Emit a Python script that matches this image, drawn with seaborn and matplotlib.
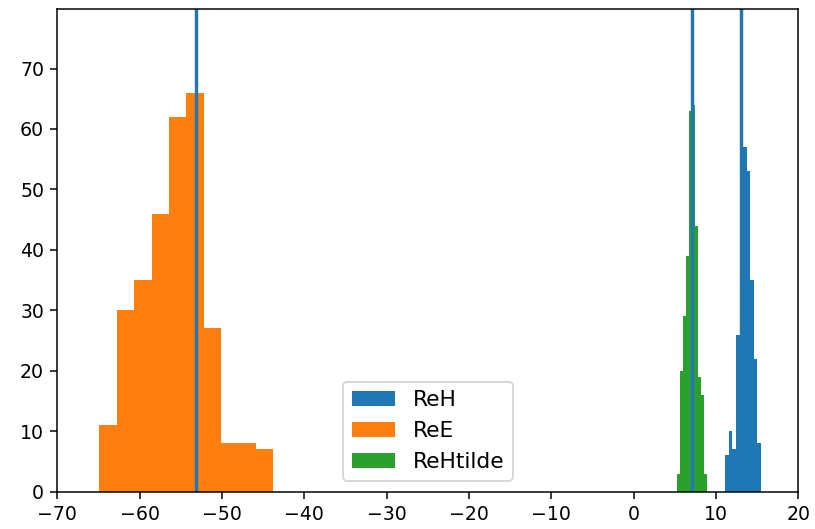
import numpy as np
import pandas as pd
import matplotlib
matplotlib.use("Agg")
import matplotlib.pyplot as plt
from matplotlib.patches import Patch
import seaborn as sns

# Sampled parameter estimates: per-bin counts over [lo, hi] with equal-width bins
series_names = ["ReH", "ReE", "ReHtilde"]

reh_range = (11.14, 15.44)
reh_counts = [6, 10, 7, 26, 76, 57, 53, 35, 22, 8]

ree_range = (-64.90, -43.76)
ree_counts = [11, 30, 35, 46, 62, 66, 27, 8, 8, 7]

rehtilde_range = (5.31, 8.88)
rehtilde_counts = [3, 20, 29, 39, 63, 64, 44, 19, 16, 3]

# True values of the parameters
true_values = [13.04, -53.15, 7.13]

xticks = [-70, -60, -50, -40, -30, -20, -10, 0, 10, 20]
yticks = [0, 10, 20, 30, 40, 50, 60, 70]

palette = sns.color_palette("tab10")

dpi = 136
fig = plt.figure(figsize=(815 / dpi, 529 / dpi), dpi=dpi)
ax = fig.add_axes([57.3 / 815, (529 - 491.7) / 529,
                   (798.3 - 57.3) / 815, (491.7 - 9.3) / 529])

legend_handles = []
for i, (name, rng, counts) in enumerate([
        (series_names[0], reh_range, reh_counts),
        (series_names[1], ree_range, ree_counts),
        (series_names[2], rehtilde_range, rehtilde_counts)]):
    edges = np.linspace(rng[0], rng[1], len(counts) + 1)
    df = pd.DataFrame({"value": (edges[:-1] + edges[1:]) / 2,
                       "count": counts})
    sns.histplot(data=df, x="value", weights="count", bins=list(edges),
                 color=palette[i], alpha=1, linewidth=0, ax=ax)
    legend_handles.append(Patch(facecolor=palette[i], label=name))

for v in true_values:
    ax.axvline(v, linewidth=1.8)

ax.set_xlim(-70, 20)
ax.set_ylim(0, 1.05 * max(reh_counts + ree_counts + rehtilde_counts))
ax.set_xticks(xticks)
ax.set_yticks(yticks)
ax.set_xlabel("")
ax.set_ylabel("")

ax.legend(handles=legend_handles, loc="lower center", fontsize=11.5)

fig.savefig("out.png", dpi=dpi)
